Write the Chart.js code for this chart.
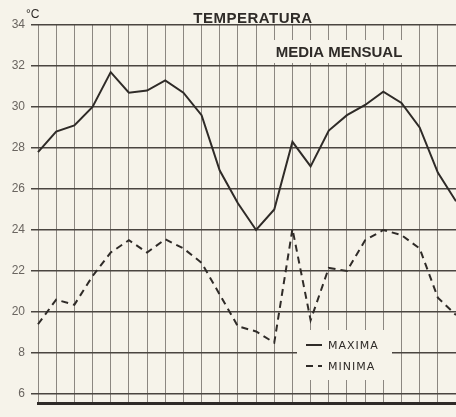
<!DOCTYPE html>
<html lang="es">
<head>
    <meta charset="UTF-8">
    <title>temperatura</title>
    <script src="https://cdn.jsdelivr.net/npm/chart.js@4.4.1/dist/chart.umd.min.js"></script>
    <style>
        body {
            margin: 0;
            padding: 0;
            background: #f6f3ea;
        }
        #wrap {
            width: 456px;
            height: 417px;
        }
    </style>
</head>
<body>
<div id="wrap">
    <canvas id="myChart" width="456" height="417"></canvas>
</div>
<script>
    // dos años de medias mensuales
    const meses = ['E', 'F', 'M', 'A', 'M', 'J', 'J', 'A', 'S', 'O', 'N', 'D',
                   'E', 'F', 'M', 'A', 'M', 'J', 'J', 'A', 'S', 'O', 'N', 'D'];
    const maxima = [27.8, 28.8, 29.1, 30.0, 31.7, 30.7, 30.8, 31.3, 30.7, 29.6, 26.9, 25.3,
                    24.0, 25.0, 28.3, 27.1, 28.85, 29.6, 30.1, 30.75, 30.2, 29.0, 26.8, 25.4];
    const minima = [19.4, 20.6, 20.35, 21.75, 22.9, 23.5, 22.9, 23.55, 23.1, 22.4, 20.85, 19.3,
                    19.05, 18.5, 24.05, 19.6, 22.15, 22.0, 23.5, 24.0, 23.75, 23.1, 20.7, 19.85];
    const yTicks = [34, 32, 30, 28, 26, 24, 22, 20, 18, 16];
    const yLabels = ['34', '32', '30', '28', '26', '24', '22', '20', '8', '6'];

    const ink = '#2f2b28';
    const textFont = '"Liberation Sans", Arial, sans-serif';

    // textos y cuadros blancos sobre la cuadricula
    const decor = {
        id: 'decor',
        beforeDatasetsDraw(chart) {
            const ctx = chart.ctx;
            const a = chart.chartArea;
            ctx.save();
            ctx.fillStyle = '#f6f3ea';
            ctx.fillRect(a.left + 227, a.top + 15, 148, 23);   // detras de MEDIA MENSUAL
            ctx.fillRect(a.left + 259, a.top + 305, 95, 50);   // detras de la leyenda
            ctx.restore();
        },
        afterDraw(chart) {
            const ctx = chart.ctx;
            const a = chart.chartArea;
            ctx.save();
            ctx.fillStyle = ink;
            ctx.textBaseline = 'alphabetic';

            ctx.font = 'bold 15px ' + textFont;
            ctx.textAlign = 'center';
            ctx.letterSpacing = '0.5px';
            ctx.fillText('TEMPERATURA', a.left + 215, 23);

            ctx.font = 'bold 15px ' + textFont;
            ctx.letterSpacing = '0px';
            ctx.fillText('MEDIA MENSUAL', a.left + 301, a.top + 32);

            ctx.font = '12px ' + textFont;
            ctx.textAlign = 'left';
            ctx.fillText('°C', 26, 18);

            // leyenda
            ctx.font = '11px "DejaVu Sans", sans-serif';
            ctx.letterSpacing = '1px';
            chart.data.datasets.forEach((ds, i) => {
                const y = a.top + 320 + i * 21;
                ctx.beginPath();
                ctx.strokeStyle = ink;
                ctx.lineWidth = 2;
                ctx.setLineDash(ds.borderDash || []);
                ctx.moveTo(a.left + 268, y);
                ctx.lineTo(a.left + 284, y);
                ctx.stroke();
                ctx.setLineDash([]);
                ctx.fillText(ds.label, a.left + 290, y + 4);
            });
            ctx.restore();
        }
    };

    const ctx = document.getElementById('myChart').getContext('2d');
    const myChart = new Chart(ctx, {
        type: 'line',
        data: {
            labels: meses,
            datasets: [{
                label: 'MAXIMA',
                data: maxima,
                borderColor: ink,
                borderWidth: 2,
                pointRadius: 0,
                tension: 0
            }, {
                label: 'MINIMA',
                data: minima,
                borderColor: ink,
                borderWidth: 2,
                borderDash: [7, 5],
                pointRadius: 0,
                tension: 0
            }]
        },
        options: {
            responsive: false,
            animation: false,
            devicePixelRatio: 1,
            layout: {
                padding: {top: 25, right: 0, bottom: 4, left: 0}
            },
            plugins: {
                legend: {display: false},
                title: {display: false},
                tooltip: {enabled: false}
            },
            scales: {
                x: {
                    offset: false,
                    ticks: {display: false},
                    grid: {
                        color: '#8c8781',
                        lineWidth: 1,
                        drawTicks: false
                    },
                    border: {
                        display: true,
                        color: ink,
                        width: 3
                    }
                },
                y: {
                    min: 15.52,
                    max: 34,
                    afterFit: scale => { scale.width = 38; },
                    afterBuildTicks: scale => {
                        scale.ticks = yTicks.map(v => ({value: v}));
                    },
                    ticks: {
                        padding: 6,
                        color: '#6a6560',
                        font: {family: textFont, size: 12},
                        callback: (value) => yLabels[yTicks.indexOf(value)]
                    },
                    grid: {
                        color: '#4a4540',
                        lineWidth: 1.5,
                        tickLength: 7
                    },
                    border: {display: false}
                }
            }
        },
        plugins: [decor]
    });
</script>
</body>
</html>
